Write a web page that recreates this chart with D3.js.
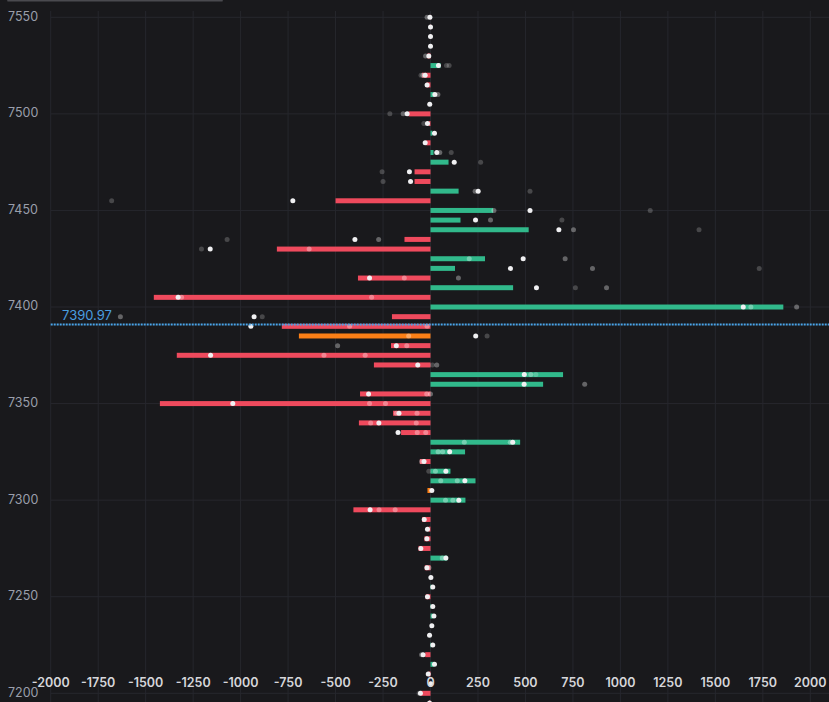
<!DOCTYPE html>
<html>
<head>
<meta charset="utf-8">
<script src="https://cdn.jsdelivr.net/npm/d3@7"></script>
<style>
	html, body { margin: 0; padding: 0; background: #19191c; overflow: hidden; }
	svg { display: block; font-family: Inter, "Noto Sans", sans-serif; }
</style>
</head>
<body>
<div id="chart"></div>
<script>
// price levels (top to bottom)
var prices = [7550, 7545, 7540, 7535, 7530, 7525, 7520, 7515, 7510, 7505,
	7500, 7495, 7490, 7485, 7480, 7475, 7470, 7465, 7460, 7455,
	7450, 7445, 7440, 7435, 7430, 7425, 7420, 7415, 7410, 7405,
	7400, 7395, 7390, 7385, 7380, 7375, 7370, 7365, 7360, 7355,
	7350, 7345, 7340, 7335, 7330, 7325, 7320, 7315, 7310, 7305,
	7300, 7295, 7290, 7285, 7280, 7275, 7270, 7265, 7260, 7255,
	7250, 7245, 7240, 7235, 7230, 7225, 7220, 7215, 7210, 7205,
	7200, 7195];

// net size per level (bar)
var netSize = [-3, -3, -3, 0, -16, 53, -44, -21, 18, 0,
	-116, -9, 10, -23, 16, 95, -84, -84, 148, -500,
	330, 158, 517, -137, -809, 287, 129, -382, 435, -1457,
	1858, -203, -783, -693, -208, -1336, -298, 698, 593, -371,
	-1425, -197, -377, -155, 472, 182, -56, 105, 237, -16,
	184, -406, -44, -10, -32, -63, 88, -30, 0, 5,
	-25, 3, 12, 0, 0, 3, -28, 18, -10, -5,
	-53, -8];

// latest snapshot (white dots)
var latest = [-3, 0, 0, 0, -9, 42, -28, -18, 23, -4,
	-123, -16, 21, -28, 33, 125, -111, -105, 251, -725,
	524, 237, 676, -398, -1160, 488, 421, -321, 558, -1329,
	1647, -929, -946, 238, -180, -1158, -67, 494, 493, -326,
	-1041, -166, -272, -171, 433, 101, -34, 81, 181, 7,
	149, -318, -33, -16, -19, -51, 81, -19, 2, 12,
	-16, 12, 18, 7, -5, 12, -39, 21, -12, 2,
	-53, -5];

// earlier snapshots: [price, value, age]
var snapshots = [
	[7550, -18, 1], [7530, -26, 1], [7525, 84, 2], [7525, 98, 2],
	[7520, -50, 2], [7520, -40, 1], [7510, 39, 1], [7500, -144, 1], [7500, -214, 2],
	[7495, -35, 2], [7480, 49, 1], [7480, 109, 2], [7475, 264, 2],
	[7470, -255, 2], [7465, -250, 2], [7460, 235, 1], [7460, 524, 2],
	[7455, -1679, 2], [7450, 334, 1], [7450, 1157, 2], [7445, 316, 1], [7445, 692, 2],
	[7440, 753, 1], [7440, 1414, 2], [7435, -273, 1], [7435, -1071, 2],
	[7430, -639, 1], [7430, -1206, 2], [7425, 204, 1], [7425, 709, 1],
	[7420, 853, 1], [7420, 1731, 2], [7415, -138, 1], [7415, 147, 1],
	[7410, 763, 2], [7410, 927, 1], [7405, -1311, 1], [7405, -310, 1],
	[7400, 1687, 1], [7400, 1928, 1], [7395, -886, 2], [7395, -1633, 1],
	[7390, -426, 1], [7390, -18, 1], [7385, -115, 1], [7385, 298, 2],
	[7380, -125, 1], [7380, -489, 1], [7375, -561, 1], [7375, -344, 1],
	[7370, 33, 1], [7370, 10, 2], [7365, 528, 1], [7365, 555, 2], [7360, 812, 1],
	[7355, -20, 1], [7355, 0, 1], [7350, -321, 1], [7350, -237, 1],
	[7345, -180, 1], [7345, -71, 1], [7340, -315, 1], [7340, -75, 1],
	[7335, -70, 1], [7335, -25, 1], [7330, 178, 1], [7330, 420, 1],
	[7325, 40, 1], [7325, 64, 1], [7320, -47, 1], [7315, 26, 1], [7315, -9, 2],
	[7310, 141, 1], [7310, 54, 1], [7300, 118, 1], [7300, 79, 1],
	[7295, -271, 1], [7295, -186, 1], [7270, 62, 1], [7265, -8, 1],
	[7220, -47, 1], [7200, -60, 2]
];

// levels drawn in orange
var flagged = [7385, 7305];

var lastPrice = 7390.97;

var xTicks = [-2000, -1750, -1500, -1250, -1000, -750, -500, -250, 0, 250, 500, 750, 1000, 1250, 1500, 1750, 2000];
var yTicks = [7200, 7250, 7300, 7350, 7400, 7450, 7500, 7550];

var width = 829, height = 702;
var colors = { up: "#31b98b", down: "#ef4a5d", flag: "#fb7f16", grid: "#26272d", line: "#4aa5ea" };
var ageOpacity = { 1: 0.33, 2: 0.2 };

var x = d3.scaleLinear().domain([-2000, 2000]).range([50.7, 810.3]);
var y = d3.scaleLinear().domain([7200, 7550]).range([693.3, 17.3]);

var svg = d3.select("#chart").append("svg")
	.attr("width", width)
	.attr("height", height);

svg.append("rect").attr("width", width).attr("height", height).attr("fill", "#19191c");

// scrollbar-ish strip on top
svg.append("rect").attr("x", 7).attr("y", 0).attr("width", 216).attr("height", 1.5)
	.attr("rx", 1).attr("fill", "#4a4a4f");

var plotTop = 11, plotLeft = x(-2000);

// grid
var grid = svg.append("g").attr("class", "grid");
grid.selectAll("line.v")
		.data(xTicks)
	.enter().append("line")
		.attr("class", "v")
		.attr("x1", d => x(d)).attr("x2", d => x(d))
		.attr("y1", plotTop).attr("y2", height)
		.attr("stroke", colors.grid);
grid.selectAll("line.h")
		.data(yTicks)
	.enter().append("line")
		.attr("class", "h")
		.attr("x1", plotLeft).attr("x2", width)
		.attr("y1", d => y(d)).attr("y2", d => y(d))
		.attr("stroke", colors.grid);

// bars
var rows = prices.map((p, i) => ({ price: p, size: netSize[i], last: latest[i] }));
var barH = 5;

svg.append("g").attr("class", "bars")
		.selectAll("rect")
		.data(rows)
	.enter().append("rect")
		.attr("x", d => Math.min(x(0), x(d.size)))
		.attr("y", d => y(d.price) - barH / 2)
		.attr("width", d => Math.abs(x(d.size) - x(0)))
		.attr("height", barH)
		.attr("fill", d => flagged.indexOf(d.price) >= 0 ? colors.flag : d.size >= 0 ? colors.up : colors.down);

// older dots, oldest first
var older = snapshots.slice().sort((a, b) => b[2] - a[2]);
svg.append("g").attr("class", "history")
		.selectAll("circle")
		.data(older)
	.enter().append("circle")
		.attr("cx", d => x(d[1]))
		.attr("cy", d => y(d[0]))
		.attr("r", 2.5)
		.attr("fill", "#ffffff")
		.attr("opacity", d => ageOpacity[d[2]]);

svg.append("g").attr("class", "latest")
		.selectAll("circle")
		.data(rows)
	.enter().append("circle")
		.attr("cx", d => x(d.last))
		.attr("cy", d => y(d.price))
		.attr("r", 2.5)
		.attr("fill", "#f0f0f2");

// last price line
svg.append("line")
	.attr("x1", plotLeft).attr("x2", width)
	.attr("y1", y(lastPrice)).attr("y2", y(lastPrice))
	.attr("stroke", colors.line)
	.attr("stroke-width", 2)
	.attr("stroke-dasharray", "2,1");

svg.append("text")
	.attr("x", 62).attr("y", y(lastPrice) - 8)
	.attr("dominant-baseline", "middle")
	.attr("fill", "#4a9ee0")
	.attr("font-size", 13)
	.text(lastPrice.toFixed(2));

// axes labels
svg.append("g").attr("class", "y-labels")
		.selectAll("text")
		.data(yTicks)
	.enter().append("text")
		.attr("x", 8)
		.attr("y", d => y(d))
		.attr("dominant-baseline", "middle")
		.attr("fill", "#9a9fab")
		.attr("font-size", 12.5)
		.text(d => d);

svg.append("g").attr("class", "x-labels")
		.selectAll("text")
		.data(xTicks)
	.enter().append("text")
		.attr("x", d => x(d))
		.attr("y", 684)
		.attr("text-anchor", "middle")
		.attr("dominant-baseline", "middle")
		.attr("fill", "#d6d6da")
		.attr("font-size", 12.5)
		.attr("font-weight", 600)
		.text(d => d);
</script>
</body>
</html>
